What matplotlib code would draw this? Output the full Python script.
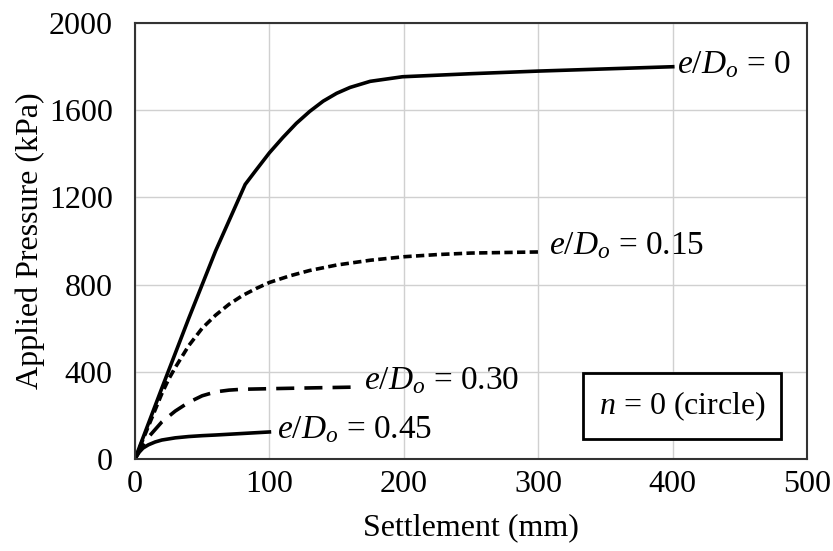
import matplotlib
matplotlib.use("Agg")
import matplotlib.pyplot as plt
from matplotlib.patches import Rectangle

plt.rcParams['font.family'] = ['Liberation Serif', 'DejaVu Serif']
plt.rcParams['mathtext.fontset'] = 'custom'
plt.rcParams['mathtext.rm'] = 'Liberation Serif'
plt.rcParams['mathtext.it'] = 'Liberation Serif:italic'

# data
x0 = [0, 20, 40, 60, 82, 90, 100, 110, 120, 130, 140, 150, 160, 175, 199, 250, 300, 350, 400]
y0 = [0, 325, 645, 955, 1260, 1325, 1405, 1475, 1540, 1595, 1642, 1678, 1705, 1733, 1754,
      1768, 1780, 1790, 1800]
x15 = [0, 5, 10, 15, 20, 25, 30, 40, 50, 60, 70, 80, 90, 100, 115, 130, 150, 175,
       200, 225, 250, 300]
y15 = [0, 75, 150, 225, 300, 365, 420, 520, 600, 660, 710, 750, 782, 810, 840,
       865, 890, 912, 928, 938, 945, 950]
x30 = [0, 5, 10, 20, 30, 40, 50, 60, 70, 80, 120, 165]
y30 = [0, 55, 100, 170, 220, 260, 290, 308, 316, 320, 325, 330]
x45 = [0, 3, 6, 10, 15, 20, 30, 40, 50, 60, 80, 100]
y45 = [0, 30, 50, 65, 78, 87, 97, 103, 107, 110, 117, 124]
xticks = [0, 100, 200, 300, 400, 500]
yticks = [0, 400, 800, 1200, 1600, 2000]

fig = plt.figure(figsize=(8.33, 5.51), dpi=100)
ax = fig.add_axes([0.162, 0.167, 0.807, 0.791])

ax.plot(x0, y0, color='black', lw=2.6, solid_joinstyle='round')
ax.plot(x15, y15, color='black', lw=2.6, linestyle=(0, (2.3, 1.2)))
ax.plot(x30, y30, color='black', lw=2.6, linestyle=(0, (5.0, 2.8)))
ax.plot(x45, y45, color='black', lw=2.6, solid_joinstyle='round')

fs = 23
lfs = 24
ax.text(403, 1810, r"$e/D_o$ = 0", fontsize=lfs, va='center', ha='left')
ax.text(308, 978, r"$e/D_o$ = 0.15", fontsize=lfs, va='center', ha='left')
ax.text(170, 360, r"$e/D_o$ = 0.30", fontsize=lfs, va='center', ha='left')
ax.text(106, 132, r"$e/D_o$ = 0.45", fontsize=lfs, va='center', ha='left')

ax.add_patch(Rectangle((0.667, 0.046), 0.294, 0.151, transform=ax.transAxes,
                       fill=True, facecolor='white', edgecolor='black', lw=2, zorder=3))
ax.text(0.814, 0.121, r"$n$ = 0 (circle)", transform=ax.transAxes, fontsize=fs,
        ha='center', va='center', zorder=4)

ax.set_xlim(0, 500)
ax.set_ylim(0, 2000)
ax.set_xticks(xticks)
ax.set_yticks(yticks)
ax.tick_params(axis='y', length=0, labelsize=fs, pad=16)
ax.tick_params(axis='x', length=0, labelsize=fs, pad=8)
ax.grid(True, color='#d0d0d0', lw=1)
ax.set_axisbelow(True)
for s in ax.spines.values():
    s.set_color('#333333')
    s.set_linewidth(1.5)
ax.set_xlabel("Settlement (mm)", fontsize=fs, labelpad=10)
ax.set_ylabel("Applied Pressure (kPa)", fontsize=fs, labelpad=3)

fig.savefig("out.png", dpi=100)
